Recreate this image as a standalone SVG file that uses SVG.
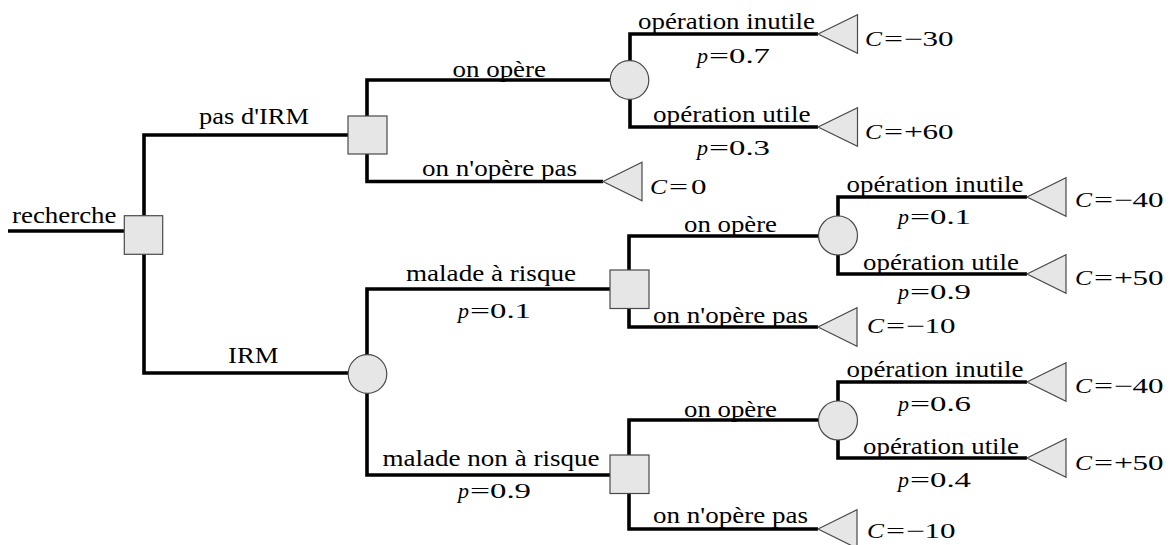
<svg xmlns="http://www.w3.org/2000/svg" width="1170" height="545" viewBox="0 0 1170 545">
<style>
.e{stroke:#000;stroke-width:3.6;fill:none;stroke-linejoin:miter;stroke-linecap:butt}
.n{fill:#e6e6e6;stroke:#4a4a4a;stroke-width:1.2}
text{font-family:"Liberation Serif","Times New Roman",serif;fill:#000}
.t{font-size:23px}
.m{font-size:21px}
.i{font-style:italic}
</style>
<rect width="1170" height="545" fill="#fff"/>
<g id="connectors">
<path class="e" d="M8 231 H124"/>
<path class="e" d="M348 135 H144 V373 H348"/>
<path class="e" d="M610 80 H367 V181.5 H603"/>
<path class="e" d="M818 34 H630 V127 H818"/>
<path class="e" d="M610 289 H367 V475 H610"/>
<path class="e" d="M818 236 H629 V327 H818"/>
<path class="e" d="M1027 197 H838 V274 H1027"/>
<path class="e" d="M818 420 H629 V529 H818"/>
<path class="e" d="M1027 382 H838 V458 H1027"/>
</g>
<g id="edge-labels">
<text class="t" x="12" y="223.3" textLength="104.5" lengthAdjust="spacingAndGlyphs">recherche</text>
<text class="t" x="199" y="124" textLength="110" lengthAdjust="spacingAndGlyphs">pas d'IRM</text>
<text class="t" x="228" y="362.7" textLength="50.5" lengthAdjust="spacingAndGlyphs">IRM</text>
<text class="t" x="452.5" y="77" textLength="93.5" lengthAdjust="spacingAndGlyphs">on opère</text>
<text class="t" x="422" y="175.7" textLength="155" lengthAdjust="spacingAndGlyphs">on n'opère pas</text>
<text class="t" x="638" y="29.3" textLength="177" lengthAdjust="spacingAndGlyphs">opération inutile</text>
<text class="t" x="653" y="121.7" textLength="157.5" lengthAdjust="spacingAndGlyphs">opération utile</text>
<text class="t" x="406" y="281" textLength="170" lengthAdjust="spacingAndGlyphs">malade à risque</text>
<text class="t" x="382.5" y="465.7" textLength="217" lengthAdjust="spacingAndGlyphs">malade non à risque</text>
<text class="t" x="684" y="232.3" textLength="93" lengthAdjust="spacingAndGlyphs">on opère</text>
<text class="t" x="653" y="322.7" textLength="155" lengthAdjust="spacingAndGlyphs">on n'opère pas</text>
<text class="t" x="846.5" y="191.7" textLength="177" lengthAdjust="spacingAndGlyphs">opération inutile</text>
<text class="t" x="863" y="270" textLength="156" lengthAdjust="spacingAndGlyphs">opération utile</text>
<text class="t" x="684" y="416.7" textLength="93" lengthAdjust="spacingAndGlyphs">on opère</text>
<text class="t" x="653" y="523.3" textLength="155" lengthAdjust="spacingAndGlyphs">on n'opère pas</text>
<text class="t" x="846.5" y="376.7" textLength="177" lengthAdjust="spacingAndGlyphs">opération inutile</text>
<text class="t" x="863" y="454" textLength="156" lengthAdjust="spacingAndGlyphs">opération utile</text>
<text class="m" y="63.3"><tspan class="i" x="697" textLength="11" lengthAdjust="spacingAndGlyphs">p</tspan><tspan x="709" textLength="20" lengthAdjust="spacingAndGlyphs">=</tspan><tspan x="729" textLength="41" lengthAdjust="spacingAndGlyphs">0.7</tspan></text>
<text class="m" y="155"><tspan class="i" x="697" textLength="11" lengthAdjust="spacingAndGlyphs">p</tspan><tspan x="709" textLength="20" lengthAdjust="spacingAndGlyphs">=</tspan><tspan x="729" textLength="41" lengthAdjust="spacingAndGlyphs">0.3</tspan></text>
<text class="m" y="318.3"><tspan class="i" x="458" textLength="11" lengthAdjust="spacingAndGlyphs">p</tspan><tspan x="470" textLength="20" lengthAdjust="spacingAndGlyphs">=</tspan><tspan x="490" textLength="41" lengthAdjust="spacingAndGlyphs">0.1</tspan></text>
<text class="m" y="498.3"><tspan class="i" x="458" textLength="11" lengthAdjust="spacingAndGlyphs">p</tspan><tspan x="470" textLength="20" lengthAdjust="spacingAndGlyphs">=</tspan><tspan x="490" textLength="41" lengthAdjust="spacingAndGlyphs">0.9</tspan></text>
<text class="m" y="224.3"><tspan class="i" x="898" textLength="11" lengthAdjust="spacingAndGlyphs">p</tspan><tspan x="910" textLength="20" lengthAdjust="spacingAndGlyphs">=</tspan><tspan x="930" textLength="41" lengthAdjust="spacingAndGlyphs">0.1</tspan></text>
<text class="m" y="299.3"><tspan class="i" x="898" textLength="11" lengthAdjust="spacingAndGlyphs">p</tspan><tspan x="910" textLength="20" lengthAdjust="spacingAndGlyphs">=</tspan><tspan x="930" textLength="41" lengthAdjust="spacingAndGlyphs">0.9</tspan></text>
<text class="m" y="411"><tspan class="i" x="898" textLength="11" lengthAdjust="spacingAndGlyphs">p</tspan><tspan x="910" textLength="20" lengthAdjust="spacingAndGlyphs">=</tspan><tspan x="930" textLength="41" lengthAdjust="spacingAndGlyphs">0.6</tspan></text>
<text class="m" y="486.7"><tspan class="i" x="898" textLength="11" lengthAdjust="spacingAndGlyphs">p</tspan><tspan x="910" textLength="20" lengthAdjust="spacingAndGlyphs">=</tspan><tspan x="930" textLength="41" lengthAdjust="spacingAndGlyphs">0.4</tspan></text>
</g>
<g id="root"><rect class="n" x="124.3" y="215.7" width="38.4" height="38.6"/></g>
<g id="decision-pas-irm"><rect class="n" x="348" y="116" width="39" height="38"/></g>
<g id="chance-irm"><circle class="n" cx="367.5" cy="374" r="19.3"/></g>
<g id="chance-top"><circle class="n" cx="629.5" cy="80" r="19.3"/></g>
<g id="decision-risque"><rect class="n" x="610" y="270" width="39" height="38.5"/></g>
<g id="decision-non-risque"><rect class="n" x="610" y="455" width="39" height="38.5"/></g>
<g id="chance-mid"><circle class="n" cx="838" cy="235.5" r="19.5"/></g>
<g id="chance-low"><circle class="n" cx="838" cy="420.5" r="19.5"/></g>
<g id="end-top-inutile"><polygon class="n" points="818,34 857.5,14.7 857.5,53.3"/>
<text class="m" y="45.7"><tspan class="i" x="865" textLength="17" lengthAdjust="spacingAndGlyphs">C</tspan><tspan x="884" textLength="19" lengthAdjust="spacingAndGlyphs">=</tspan><tspan x="904" textLength="19" lengthAdjust="spacingAndGlyphs">−</tspan><tspan x="922.5" textLength="31" lengthAdjust="spacingAndGlyphs">30</tspan></text></g>
<g id="end-top-utile"><polygon class="n" points="818,127 857.5,107.7 857.5,146.3"/>
<text class="m" y="139.3"><tspan class="i" x="865" textLength="17" lengthAdjust="spacingAndGlyphs">C</tspan><tspan x="884" textLength="19" lengthAdjust="spacingAndGlyphs">=</tspan><tspan x="904" textLength="19" lengthAdjust="spacingAndGlyphs">+</tspan><tspan x="922.5" textLength="31" lengthAdjust="spacingAndGlyphs">60</tspan></text></g>
<g id="end-top-nonop"><polygon class="n" points="603,181.5 642,162.2 642,200.8"/>
<text class="m" y="194.3"><tspan class="i" x="650" textLength="17" lengthAdjust="spacingAndGlyphs">C</tspan><tspan x="669" textLength="19" lengthAdjust="spacingAndGlyphs">=</tspan><tspan x="691" textLength="15.5" lengthAdjust="spacingAndGlyphs">0</tspan></text></g>
<g id="end-mid-inutile"><polygon class="n" points="1027,197 1066,177.7 1066,216.3"/>
<text class="m" y="206.7"><tspan class="i" x="1075" textLength="17" lengthAdjust="spacingAndGlyphs">C</tspan><tspan x="1094" textLength="19" lengthAdjust="spacingAndGlyphs">=</tspan><tspan x="1114" textLength="19" lengthAdjust="spacingAndGlyphs">−</tspan><tspan x="1132.5" textLength="31" lengthAdjust="spacingAndGlyphs">40</tspan></text></g>
<g id="end-mid-utile"><polygon class="n" points="1027,274 1066,254.7 1066,293.3"/>
<text class="m" y="285"><tspan class="i" x="1075" textLength="17" lengthAdjust="spacingAndGlyphs">C</tspan><tspan x="1094" textLength="19" lengthAdjust="spacingAndGlyphs">=</tspan><tspan x="1114" textLength="19" lengthAdjust="spacingAndGlyphs">+</tspan><tspan x="1132.5" textLength="31" lengthAdjust="spacingAndGlyphs">50</tspan></text></g>
<g id="end-mid-nonop"><polygon class="n" points="818,327 857,307.7 857,346.3"/>
<text class="m" y="333.3"><tspan class="i" x="867" textLength="17" lengthAdjust="spacingAndGlyphs">C</tspan><tspan x="886" textLength="19" lengthAdjust="spacingAndGlyphs">=</tspan><tspan x="906" textLength="19" lengthAdjust="spacingAndGlyphs">−</tspan><tspan x="924.5" textLength="31" lengthAdjust="spacingAndGlyphs">10</tspan></text></g>
<g id="end-low-inutile"><polygon class="n" points="1027,382 1066,362.7 1066,401.3"/>
<text class="m" y="393.3"><tspan class="i" x="1075" textLength="17" lengthAdjust="spacingAndGlyphs">C</tspan><tspan x="1094" textLength="19" lengthAdjust="spacingAndGlyphs">=</tspan><tspan x="1114" textLength="19" lengthAdjust="spacingAndGlyphs">−</tspan><tspan x="1132.5" textLength="31" lengthAdjust="spacingAndGlyphs">40</tspan></text></g>
<g id="end-low-utile"><polygon class="n" points="1027,458 1066,438.7 1066,477.3"/>
<text class="m" y="470"><tspan class="i" x="1075" textLength="17" lengthAdjust="spacingAndGlyphs">C</tspan><tspan x="1094" textLength="19" lengthAdjust="spacingAndGlyphs">=</tspan><tspan x="1114" textLength="19" lengthAdjust="spacingAndGlyphs">+</tspan><tspan x="1132.5" textLength="31" lengthAdjust="spacingAndGlyphs">50</tspan></text></g>
<g id="end-low-nonop"><polygon class="n" points="818,529 857,509.7 857,548.3"/>
<text class="m" y="538"><tspan class="i" x="867" textLength="17" lengthAdjust="spacingAndGlyphs">C</tspan><tspan x="886" textLength="19" lengthAdjust="spacingAndGlyphs">=</tspan><tspan x="906" textLength="19" lengthAdjust="spacingAndGlyphs">−</tspan><tspan x="924.5" textLength="31" lengthAdjust="spacingAndGlyphs">10</tspan></text></g>
</svg>
